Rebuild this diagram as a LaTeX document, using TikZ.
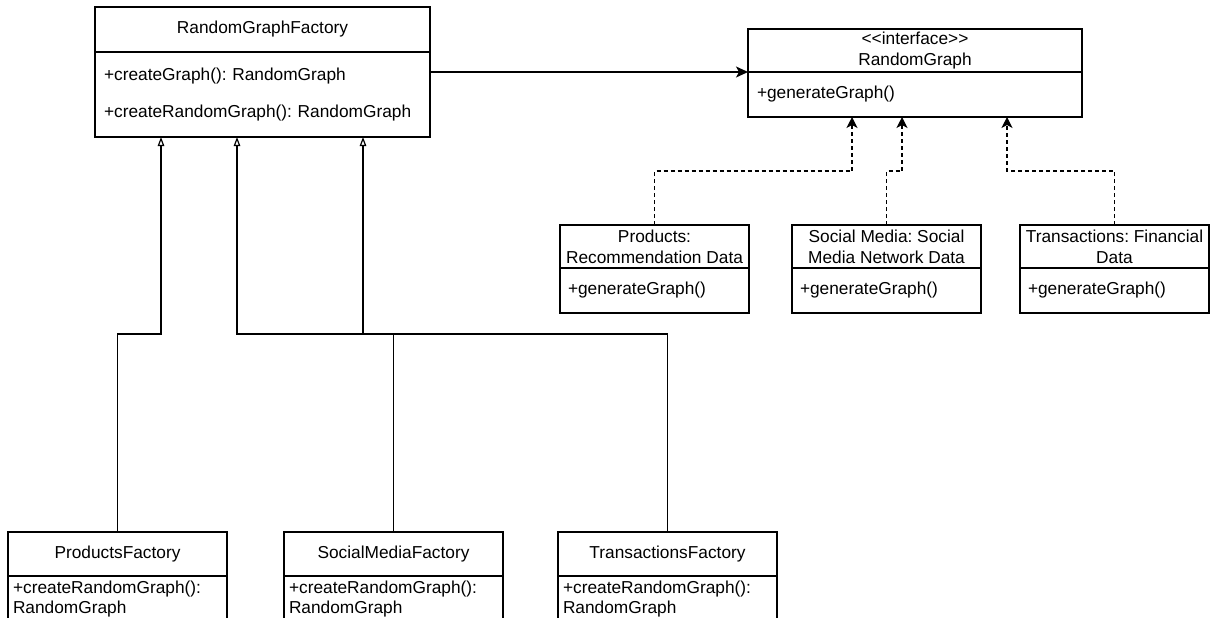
\documentclass[tikz,border=0pt]{standalone}
\usepackage{fontspec}
\setmainfont{Liberation Sans}
\usetikzlibrary{arrows.meta,positioning}
\frenchspacing
\begin{document}
\begin{tikzpicture}[x=1pt, y=-1pt, line width=1.2pt, every node/.style={font=\fontsize{17.3}{20.76}\selectfont, inner sep=0pt, outer sep=0pt}]
		\tikzstyle{head}=[draw, anchor=north west, align=center]
		\tikzstyle{body}=[draw, align=left]
		\tikzstyle{gen}=[-{Triangle[open,length=9pt,width=6.5pt]}]
		\tikzstyle{real}=[dash pattern=on 4pt off 3pt, -{Stealth[length=11pt,width=11pt,inset=3pt]}]
		\tikzstyle{assoc}=[-{Stealth[length=12pt,width=11pt,inset=3pt]}]
		\useasboundingbox (0,0) rectangle (1210,618);
		\coordinate (bus) at (0,334);
		\coordinate (dbus) at (0,171);
		% factory base class
		\node[head,minimum width=335pt,minimum height=45pt](rgfh)at(95,7){RandomGraphFactory};
		\node[body,below=0pt of rgfh,minimum width=335pt,minimum height=85pt,text width=317pt,inner xsep=9pt](rgfb){+createGraph(): RandomGraph\\[16pt]+createRandomGraph(): RandomGraph};
		% interface
		\node[head,minimum width=334pt,minimum height=43pt](rgh)at(748,29){<{}<interface>{}>\\RandomGraph};
		\node[body,below=0pt of rgh,minimum width=334pt,minimum height=45pt,text width=316pt,inner xsep=9pt](rgb){+generateGraph()};
		% data classes
		\node[head,minimum width=189pt,minimum height=43pt](pdh)at(560,225){Products:\\Recommendation Data};
		\node[body,below=0pt of pdh,minimum width=189pt,minimum height=45pt,text width=173pt,inner xsep=8pt](pdb){+generateGraph()};
		\node[head,minimum width=189pt,minimum height=43pt](sdh)at(792,225){Social Media: Social\\Media Network Data};
		\node[body,below=0pt of sdh,minimum width=189pt,minimum height=45pt,text width=173pt,inner xsep=8pt](sdb){+generateGraph()};
		\node[head,minimum width=189pt,minimum height=43pt](tdh)at(1020,225){Transactions: Financial\\Data};
		\node[body,below=0pt of tdh,minimum width=189pt,minimum height=45pt,text width=173pt,inner xsep=8pt](tdb){+generateGraph()};
		% concrete factories
		\node[head,minimum width=219pt,minimum height=44pt](pfh)at(8,532){ProductsFactory};
		\node[body,below=0pt of pfh,minimum width=219pt,minimum height=46pt,text width=209pt,inner xsep=5pt](pfb){+createRandomGraph():\\RandomGraph};
		\node[head,minimum width=219pt,minimum height=44pt](sfh)at(284,532){SocialMediaFactory};
		\node[body,below=0pt of sfh,minimum width=219pt,minimum height=46pt,text width=209pt,inner xsep=5pt](sfb){+createRandomGraph():\\RandomGraph};
		\node[head,minimum width=219pt,minimum height=44pt](tfh)at(558,532){TransactionsFactory};
		\node[body,below=0pt of tfh,minimum width=219pt,minimum height=46pt,text width=209pt,inner xsep=5pt](tfb){+createRandomGraph():\\RandomGraph};
		\draw[assoc]{
			(rgh.south west -| rgfb.east) -- (rgh.south west)
		};
		\draw[gen]{
			(pfh.north) -- (pfh.north |- bus) -| ([xshift=66pt]rgfb.south west)
		};
		\draw[gen]{
			(sfh.north) -- (sfh.north |- bus) -| ([xshift=142pt]rgfb.south west)
		};
		\draw[gen]{
			(tfh.north) -- (tfh.north |- bus) -| ([xshift=268pt]rgfb.south west)
		};
		\draw[real]{
			(pdh.north) -- (pdh.north |- dbus) -| ([xshift=104pt]rgb.south west)
		};
		\draw[real]{
			(sdh.north) -- (sdh.north |- dbus) -| ([xshift=154pt]rgb.south west)
		};
		\draw[real]{
			(tdh.north) -- (tdh.north |- dbus) -| ([xshift=259pt]rgb.south west)
		};
\end{tikzpicture}
\end{document}
